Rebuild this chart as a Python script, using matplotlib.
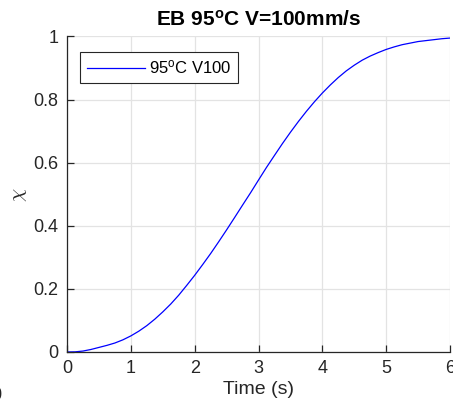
import matplotlib
matplotlib.use("Agg")
import matplotlib.pyplot as plt
from matplotlib.ticker import FixedLocator, FixedFormatter

plt.rcParams['font.family'] = ['Liberation Sans', 'DejaVu Sans']
plt.rcParams['mathtext.fontset'] = 'custom'
plt.rcParams['mathtext.rm'] = 'Liberation Sans'
plt.rcParams['mathtext.it'] = 'Liberation Sans:italic'
plt.rcParams['mathtext.bf'] = 'Liberation Sans:bold'

# Data (every 0.125 s)
time_s = [0.0, 0.125, 0.25, 0.375, 0.5, 0.625, 0.75, 0.875, 1.0, 1.125, 1.25,
          1.375, 1.5, 1.625, 1.75, 1.875, 2.0, 2.125, 2.25, 2.375, 2.5, 2.625,
          2.75, 2.875, 3.0, 3.125, 3.25, 3.375, 3.5, 3.625, 3.75, 3.875, 4.0,
          4.125, 4.25, 4.375, 4.5, 4.625, 4.75, 4.875, 5.0, 5.125, 5.25, 5.375,
          5.5, 5.625, 5.75, 5.875, 6.0]
chi = [0.0, 0.0005, 0.003, 0.008, 0.0145, 0.021, 0.0285, 0.0385, 0.051, 0.066,
       0.0835, 0.104, 0.127, 0.152, 0.180, 0.211, 0.243, 0.277, 0.312, 0.349,
       0.387, 0.426, 0.4655, 0.5045, 0.545, 0.585, 0.623, 0.6606, 0.6964, 0.7305,
       0.7627, 0.7928, 0.8208, 0.8464, 0.870, 0.891, 0.909, 0.925, 0.938, 0.949,
       0.959, 0.967, 0.974, 0.979, 0.984, 0.987, 0.990, 0.993, 0.995]
xticks = [0, 1, 2, 3, 4, 5, 6]
yticks = [0, 0.2, 0.4, 0.6, 0.8, 1.0]
yticklabels = ['0', '0.2', '0.4', '0.6', '0.8', '1']
series_label = r'95$^{\mathrm{o}}$C V100'
title = r'EB 95$^{\mathbf{o}}$C V=100mm/s'

W, H = 453, 412
fig = plt.figure(figsize=(W / 100, H / 100), dpi=100)
ax = fig.add_axes([67 / W, 1 - 352 / H, (450 - 67) / W, (352 - 36.5) / H])

ax.plot(time_s, chi, color='#0000ff', lw=0.9, label=series_label)
ax.set_xlim(0, 6)
ax.set_ylim(0, 1)
ax.xaxis.set_major_locator(FixedLocator(xticks))
ax.yaxis.set_major_locator(FixedLocator(yticks))
ax.yaxis.set_major_formatter(FixedFormatter(yticklabels))

dark = '#262626'
for s in ['top', 'right']:
    ax.spines[s].set_visible(False)
for s in ['left', 'bottom']:
    ax.spines[s].set_color(dark)
    ax.spines[s].set_linewidth(0.9)
ax.tick_params(direction='in', length=5, width=0.9, colors=dark,
               labelsize=13, pad=6)
ax.grid(True, color='#e3e3e3', lw=0.9)
ax.set_axisbelow(True)

ax.set_title(title, fontsize=15, fontweight='bold', color='black', pad=8)
ax.set_xlabel('Time (s)', fontsize=14, color=dark, labelpad=3)
ax.set_ylabel(r'$\chi$', fontsize=15, color=dark, math_fontfamily='cm')
ax.yaxis.set_label_coords((29 - 67) / 383, (352 - 195) / 315.5)

leg = ax.legend(loc='upper left', bbox_to_anchor=(13 / 383, 1 - 15.5 / 315.5),
                fontsize=12, frameon=True, fancybox=False, framealpha=1,
                edgecolor='#262626', handlelength=3.5, handletextpad=0.25,
                borderpad=0.4, borderaxespad=0)
leg.get_frame().set_linewidth(0.8)

fig.text(-0.019, 0.028, '0', fontsize=13, color=dark)

fig.savefig('out.png', dpi=100)
